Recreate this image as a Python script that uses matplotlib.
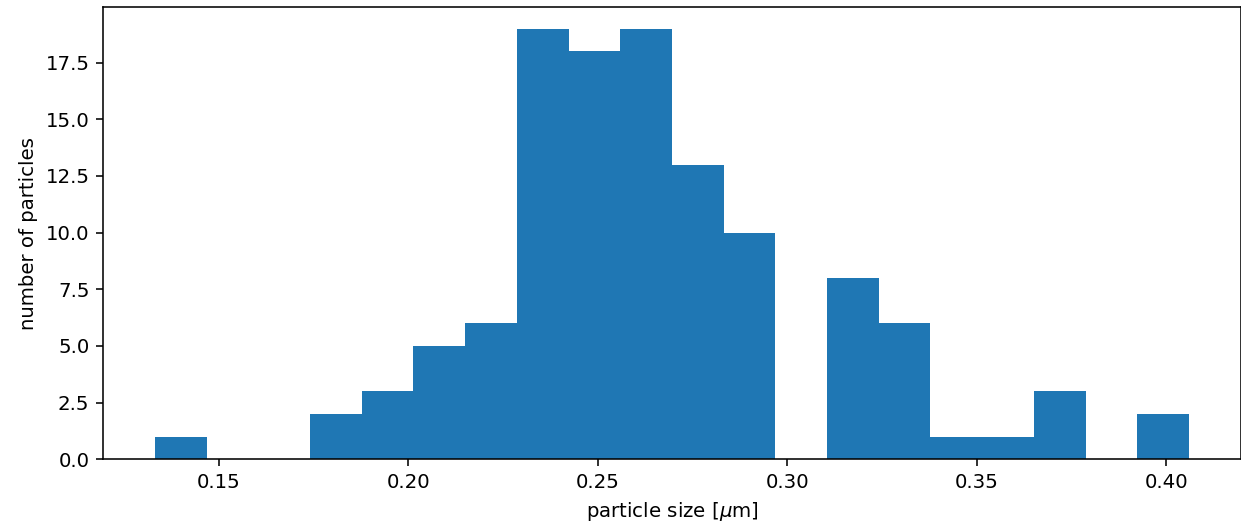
import numpy as np
import matplotlib
matplotlib.use("Agg")
import matplotlib.pyplot as plt

# histogram of particle sizes, 20 bins
bin_lo = 0.1332
bin_hi = 0.4060
counts = [1, 0, 0, 2, 3, 5, 6, 19, 18, 19, 13, 10, 0, 8, 6, 1, 1, 3, 0, 2]

edges = np.linspace(bin_lo, bin_hi, len(counts) + 1)
centers = 0.5 * (edges[:-1] + edges[1:])

dpi = 142
fig = plt.figure(figsize=(1241 / dpi, 529 / dpi), dpi=dpi)
ax = fig.add_axes([0.0832, 0.1318, 0.9165, 0.855])
ax.hist(centers, bins=edges, weights=counts)
ax.set_xlabel("particle size [$\\mu$m]")
ax.set_ylabel("number of particles")

fig.savefig("out.png")
